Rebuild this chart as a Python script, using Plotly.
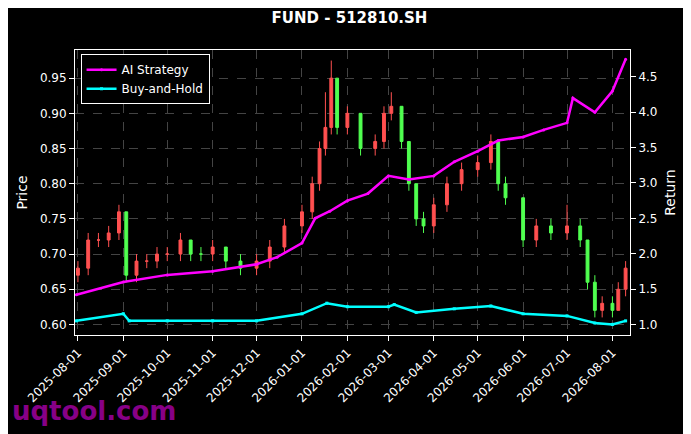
import plotly.graph_objects as go

dates = ["2025-08-01","2025-08-08","2025-08-15","2025-08-22","2025-08-29","2025-09-03","2025-09-10","2025-09-17","2025-09-24","2025-10-01","2025-10-10","2025-10-17","2025-10-24","2025-11-01","2025-11-10","2025-11-20","2025-12-01","2025-12-10","2025-12-20","2026-01-01","2026-01-08","2026-01-13","2026-01-17","2026-01-21","2026-01-25","2026-02-01","2026-02-10","2026-02-20","2026-02-26","2026-03-03","2026-03-10","2026-03-15","2026-03-20","2026-03-25","2026-04-01","2026-04-10","2026-04-20","2026-05-01","2026-05-10","2026-05-15","2026-05-20","2026-06-01","2026-06-10","2026-06-20","2026-07-01","2026-07-10","2026-07-15","2026-07-20","2026-07-25","2026-08-01","2026-08-05","2026-08-10"]
open_ = [0.67,0.68,0.72,0.72,0.73,0.76,0.67,0.69,0.69,0.70,0.70,0.72,0.70,0.70,0.71,0.69,0.68,0.69,0.71,0.74,0.76,0.80,0.85,0.88,0.95,0.88,0.90,0.85,0.86,0.90,0.91,0.86,0.80,0.75,0.74,0.77,0.80,0.82,0.83,0.86,0.80,0.78,0.72,0.74,0.73,0.74,0.72,0.66,0.62,0.63,0.62,0.65]
close = [0.68,0.72,0.72,0.73,0.76,0.67,0.69,0.69,0.70,0.70,0.72,0.70,0.70,0.71,0.69,0.68,0.69,0.71,0.74,0.76,0.80,0.85,0.88,0.95,0.88,0.90,0.85,0.86,0.90,0.91,0.86,0.80,0.75,0.74,0.77,0.80,0.82,0.83,0.86,0.80,0.78,0.72,0.74,0.73,0.74,0.72,0.66,0.62,0.63,0.62,0.65,0.68]
high = [0.69,0.73,0.73,0.74,0.77,0.76,0.70,0.70,0.71,0.71,0.73,0.72,0.71,0.72,0.71,0.70,0.70,0.72,0.75,0.77,0.81,0.86,0.93,0.975,0.95,0.91,0.90,0.87,0.91,0.93,0.91,0.86,0.80,0.76,0.78,0.81,0.83,0.84,0.87,0.86,0.81,0.78,0.75,0.75,0.77,0.75,0.72,0.67,0.64,0.64,0.66,0.69]
low = [0.66,0.67,0.71,0.71,0.72,0.66,0.66,0.68,0.68,0.69,0.69,0.69,0.69,0.69,0.68,0.67,0.67,0.68,0.70,0.73,0.75,0.79,0.84,0.87,0.87,0.87,0.84,0.84,0.85,0.89,0.85,0.79,0.74,0.73,0.73,0.76,0.79,0.81,0.82,0.79,0.77,0.71,0.71,0.72,0.72,0.71,0.65,0.61,0.61,0.61,0.62,0.64]

ret_dates = ["2025-07-31","2025-09-01","2025-10-01","2025-11-01","2025-12-01","2025-12-15","2026-01-01","2026-01-10","2026-01-20","2026-02-01","2026-02-15","2026-03-01","2026-03-15","2026-04-01","2026-04-15","2026-05-01","2026-05-15","2026-06-01","2026-06-15","2026-07-01","2026-07-05","2026-07-20","2026-08-01","2026-08-10"]
ai_ret = [1.42,1.60,1.70,1.75,1.85,1.95,2.15,2.50,2.60,2.75,2.85,3.10,3.05,3.10,3.30,3.45,3.60,3.65,3.75,3.85,4.20,4.00,4.30,4.75]
bh_dates = ["2025-07-31","2025-09-01","2025-09-05","2025-10-01","2025-11-01","2025-12-01","2026-01-01","2026-01-18","2026-02-01","2026-03-01","2026-03-05","2026-03-20","2026-04-15","2026-05-10","2026-06-01","2026-07-01","2026-07-20","2026-08-01","2026-08-10"]
bh_ret = [1.05,1.15,1.05,1.05,1.05,1.05,1.15,1.30,1.25,1.25,1.28,1.17,1.22,1.26,1.15,1.12,1.02,1.00,1.05]

fig = go.Figure()
fig.add_trace(go.Candlestick(x=dates, open=open_, high=high, low=low, close=close,
    increasing=dict(line=dict(color="#ff5050", width=1), fillcolor="#ff5050"),
    decreasing=dict(line=dict(color="#50ff50", width=1), fillcolor="#50ff50"),
    whiskerwidth=0, showlegend=False, yaxis="y"))
fig.add_trace(go.Scatter(x=ret_dates, y=ai_ret, name="AI Strategy", mode="lines+markers",
    line=dict(color="#ff00ff", width=2.5), marker=dict(size=3), yaxis="y2"))
fig.add_trace(go.Scatter(x=bh_dates, y=bh_ret, name="Buy-and-Hold", mode="lines+markers",
    line=dict(color="#00ffff", width=2.5), marker=dict(size=3, symbol="square"), yaxis="y2"))

grid = dict(showgrid=True, gridcolor="#444", griddash="dash", gridwidth=0.5)
fig.update_layout(
    width=683, height=426, paper_bgcolor="black", plot_bgcolor="black",
    font=dict(family="DejaVu Sans", color="white", size=12),
    title=dict(text="<b>FUND - 512810.SH</b>", x=0.5, y=0.976, xanchor="center", yanchor="middle", font=dict(size=15)),
    margin=dict(l=67, r=61, t=42, b=99, autoexpand=False),
    xaxis=dict(type="date", range=["2025-07-30", "2026-08-13"], rangeslider=dict(visible=False),
        tickformat="%Y-%m-%d", dtick="M1", tick0="2025-08-01", tickangle=-45, automargin=False,
        showline=True, linecolor="white", mirror=True, ticks="outside", tickcolor="white", **grid),
    yaxis=dict(title=dict(text="Price", standoff=8), range=[0.585, 0.99], dtick=0.05, tickformat=".2f",
        automargin=False, showline=True, linecolor="white", ticks="outside", tickcolor="white", zeroline=False, **grid),
    yaxis2=dict(title=dict(text="Return", standoff=8), overlaying="y", side="right", range=[0.85, 4.88], dtick=0.5,
        automargin=False, tickformat=".1f", showgrid=False, showline=True, linecolor="white", ticks="outside",
        tickcolor="white", zeroline=False),
    legend=dict(x=0.01, y=0.985, xanchor="left", yanchor="top", bgcolor="black", bordercolor="white", borderwidth=1,
        font=dict(size=12)),
)
fig.add_annotation(text="<b>uqtool.com</b>", xref="paper", yref="paper", x=-0.117, y=-0.325, xanchor="left", yanchor="bottom",
    showarrow=False, font=dict(size=26, color="rgba(160,0,160,0.85)"))
fig.write_html("out.html")
